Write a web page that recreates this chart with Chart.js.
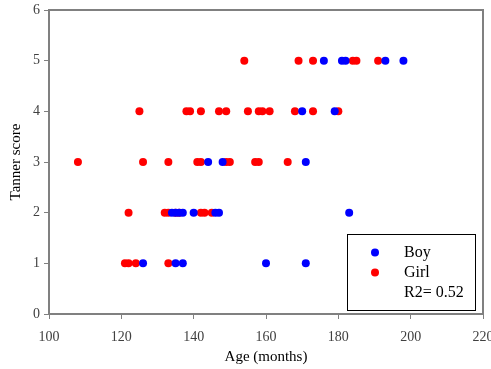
<!DOCTYPE html>
<html>
<head>
<meta charset="utf-8">
<script src="https://cdn.jsdelivr.net/npm/chart.js@4"></script>
<style>
  html, body { margin: 0; padding: 0; background: #fff; }
  #wrap { width: 491px; height: 369px; }
</style>
</head>
<body>
<div id="wrap"><canvas id="myChart" width="491" height="369"></canvas></div>
<script>
// values
const boyAge   = [126, 135, 137, 160, 171, 134, 135, 136, 137, 140, 146, 147, 183, 144, 148, 171, 170, 179, 176, 181, 182, 193, 198];
const boyScore = [1, 1, 1, 1, 1, 2, 2, 2, 2, 2, 2, 2, 2, 3, 3, 3, 4, 4, 5, 5, 5, 5, 5];

const girlAge   = [121, 122, 124, 133, 122, 132, 133, 135, 136, 142, 143, 145,
                   108, 126, 133, 141, 142, 149, 150, 157, 158, 166,
                   125, 138, 139, 142, 147, 149, 155, 158, 159, 161, 168, 173, 180,
                   154, 169, 173, 184, 185, 191];
const girlScore = [1, 1, 1, 1, 2, 2, 2, 2, 2, 2, 2, 2,
                   3, 3, 3, 3, 3, 3, 3, 3, 3, 3,
                   4, 4, 4, 4, 4, 4, 4, 4, 4, 4, 4, 4, 4,
                   5, 5, 5, 5, 5, 5];

const seriesNames = ['Boy', 'Girl'];
const r2Text = 'R2= 0.52';
const xTicks = [100, 120, 140, 160, 180, 200, 220];
const yTicks = [0, 1, 2, 3, 4, 5, 6];

const COLORS = { boy: '#0000ff', girl: '#ff0000', axis: '#808080' };
const SERIF = '"Liberation Serif", "Times New Roman", serif';

function toPoints(xs, ys) {
    return xs.map((x, i) => ({ x: x, y: ys[i] }));
}

// frame on top and right, plus the legend box inside the plot
const framePlugin = {
    id: 'frame',
    afterDraw(chart) {
        const ctx = chart.ctx;
        const a = chart.chartArea;
        ctx.save();
        ctx.strokeStyle = COLORS.axis;
        ctx.lineWidth = 2;
        ctx.beginPath();
        ctx.moveTo(a.left, a.top);
        ctx.lineTo(a.right, a.top);
        ctx.lineTo(a.right, a.bottom);
        ctx.stroke();

        // legend
        const bx = 347, by = 234, bw = 128, bh = 76;
        ctx.fillStyle = '#fff';
        ctx.fillRect(bx, by, bw, bh);
        ctx.strokeStyle = '#000';
        ctx.lineWidth = 1;
        ctx.strokeRect(bx + 0.5, by + 0.5, bw, bh);

        ctx.font = '16px ' + SERIF;
        ctx.textBaseline = 'middle';
        const cols = [COLORS.boy, COLORS.girl];
        seriesNames.forEach((name, i) => {
            const yy = by + 18.5 + i * 20;
            ctx.fillStyle = cols[i];
            ctx.beginPath();
            ctx.arc(375, yy, 4, 0, Math.PI * 2);
            ctx.fill();
            ctx.fillStyle = '#000';
            ctx.fillText(name, 404, yy);
        });
        ctx.fillText(r2Text, 404, by + 58.5);
        ctx.restore();
    }
};

const data = {
    datasets: [
        {
            label: seriesNames[0],
            data: toPoints(boyAge, boyScore),
            backgroundColor: COLORS.boy,
            borderWidth: 0,
            pointRadius: 4,
        },
        {
            label: seriesNames[1],
            data: toPoints(girlAge, girlScore),
            backgroundColor: COLORS.girl,
            borderWidth: 0,
            pointRadius: 4,
        }
    ]
};

const config = {
    type: 'scatter',
    data: data,
    options: {
        responsive: false,
        animation: false,
        layout: { padding: { left: 0, right: 8, top: 10, bottom: 3 } },
        plugins: {
            legend: { display: false },
            tooltip: { enabled: false }
        },
        scales: {
            x: {
                type: 'linear',
                min: 100,
                max: 220,
                afterBuildTicks: (s) => { s.ticks = xTicks.map(v => ({ value: v })); },
                afterFit: (s) => { s.height = 52; s.paddingLeft = 0; s.paddingRight = 0; },
                border: { color: COLORS.axis, width: 2 },
                grid: { drawOnChartArea: false, drawTicks: true, tickLength: 5, tickColor: COLORS.axis, tickWidth: 1 },
                ticks: { color: '#404040', padding: 10, maxRotation: 0, font: { family: SERIF, size: 14 } },
                title: { display: true, text: 'Age (months)', color: '#000', padding: { top: 0, bottom: 0 }, font: { family: SERIF, size: 15 } }
            },
            y: {
                type: 'linear',
                min: 0,
                max: 6,
                afterBuildTicks: (s) => { s.ticks = yTicks.map(v => ({ value: v })); },
                afterFit: (s) => { s.width = 49; s.paddingTop = 0; s.paddingBottom = 0; },
                border: { color: COLORS.axis, width: 2 },
                grid: { drawOnChartArea: false, drawTicks: true, tickLength: 5, tickColor: COLORS.axis, tickWidth: 1 },
                ticks: { color: '#404040', padding: 4, font: { family: SERIF, size: 14 } },
                title: { display: true, text: 'Tanner score', color: '#000', padding: { top: 7, bottom: 0 }, font: { family: SERIF, size: 15 } }
            }
        }
    },
    plugins: [framePlugin]
};

const myChart = new Chart(document.getElementById('myChart'), config);
</script>
</body>
</html>
